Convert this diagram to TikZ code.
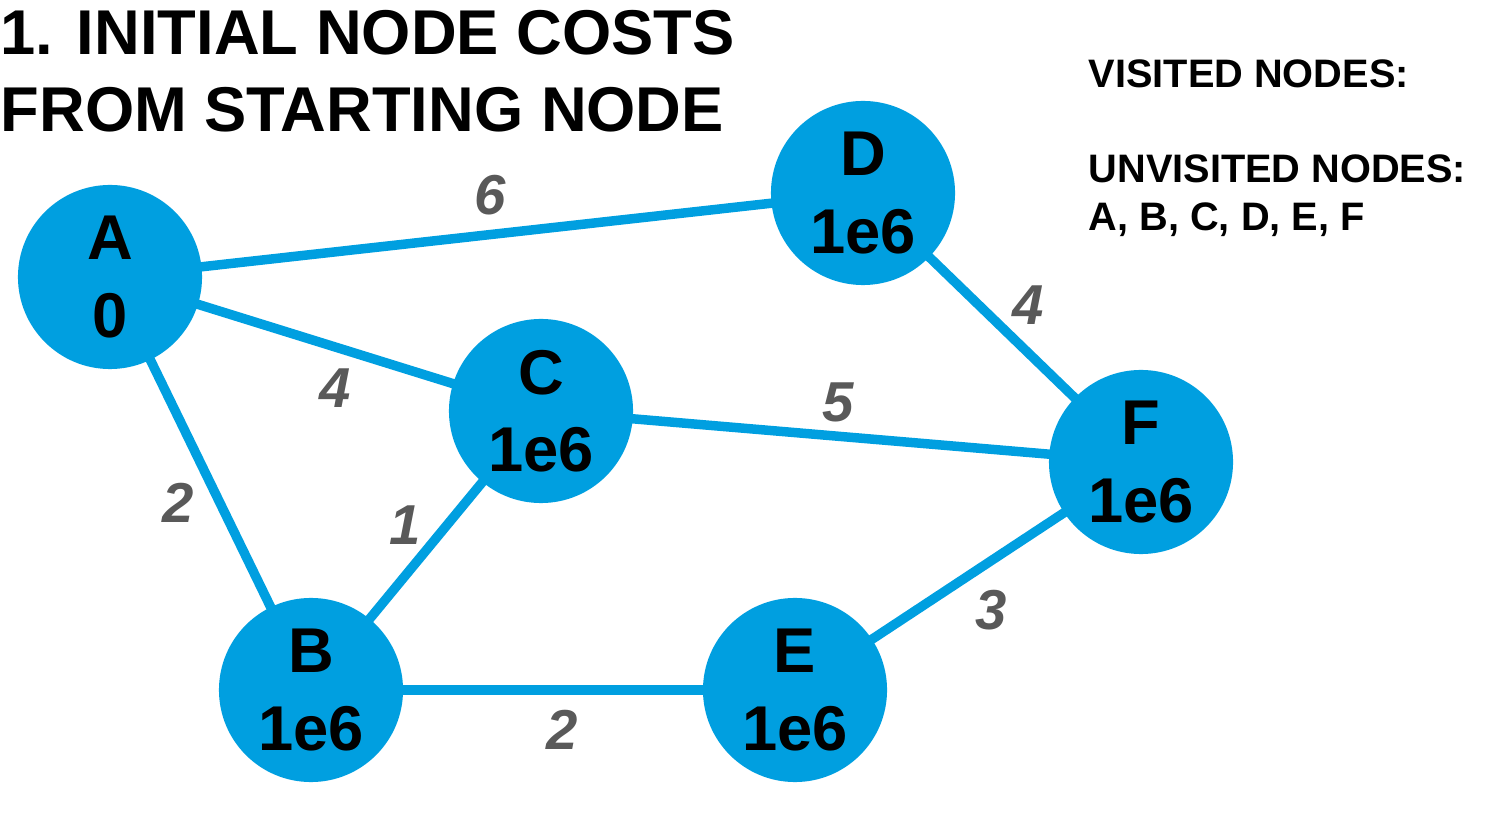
\documentclass[tikz,border=0pt]{standalone}
\usepackage{fontspec}
\setmainfont{Liberation Sans}
\usepackage{tikz}
\usetikzlibrary{positioning}
\usetikzlibrary{backgrounds}
\definecolor{nodeblue}{HTML}{009FE0}
\definecolor{labelgray}{HTML}{595959}
\tikzstyle{vertex} = [circle, fill=nodeblue, minimum size=1.84cm, inner sep=0pt, align=center, font=\fontsize{18}{22}\selectfont\bfseries]
\tikzstyle{line} = [draw, nodeblue, line width=2.7pt]
\tikzstyle{weight} = [text=labelgray, inner sep=0pt, font=\fontsize{16}{19}\selectfont\bfseries\itshape]
\tikzstyle{info} = [anchor=base west, inner sep=0pt, font=\fontsize{11.3}{14}\selectfont\bfseries]
\tikzstyle{heading} = [anchor=base west, inner sep=0pt, font=\fontsize{18}{22}\selectfont\bfseries]

\begin{document}
\begin{tikzpicture}[x=0.01cm, y=-0.01cm]
	\useasboundingbox (0,0) rectangle (1488,822);
	
	% title
	\node[heading] (title1) at (0,55) {1. INITIAL NODE COSTS};
	\node[heading] (title2) at (0,132) {FROM STARTING NODE};
	
	% graph
	\node[vertex] (A) at (110,277) {A\\0};
	\node[vertex] (D) at (863,193) {D\\1e6};
	\node[vertex] (C) at (541,411) {C\\1e6};
	\node[vertex] (F) at (1141,462) {F\\1e6};
	\node[vertex] (B) at (311,690) {B\\1e6};
	\node[vertex] (E) at (795,690) {E\\1e6};
	
	\begin{scope}[on background layer]
		\path[line] (A.center) -- (D.center);
		\path[line] (A.center) -- (C.center);
		\path[line] (A.center) -- (B.center);
		\path[line] (B.center) -- (C.center);
		\path[line] (C.center) -- (F.center);
		\path[line] (D.center) -- (F.center);
		\path[line] (B.center) -- (E.center);
		\path[line] (E.center) -- (F.center);
	\end{scope}
	
	\node[weight] (wAD) at (490,195) {6};
	\node[weight] (wAC) at (335,388) {4};
	\node[weight] (wAB) at (178,503) {2};
	\node[weight] (wBC) at (405,525) {1};
	\node[weight] (wCF) at (838,402) {5};
	\node[weight] (wDF) at (1028,305) {4};
	\node[weight] (wEF) at (991,610) {3};
	\node[weight] (wBE) at (562,730) {2};
	
	% lists
	\node[info] (visited) at (1088,88) {VISITED NODES:};
	\node[info] (unvisited) at (1088,183) {UNVISITED NODES:};
	\node[info] (list) at (1088,231) {A, B, C, D, E, F};
\end{tikzpicture}
\end{document}
